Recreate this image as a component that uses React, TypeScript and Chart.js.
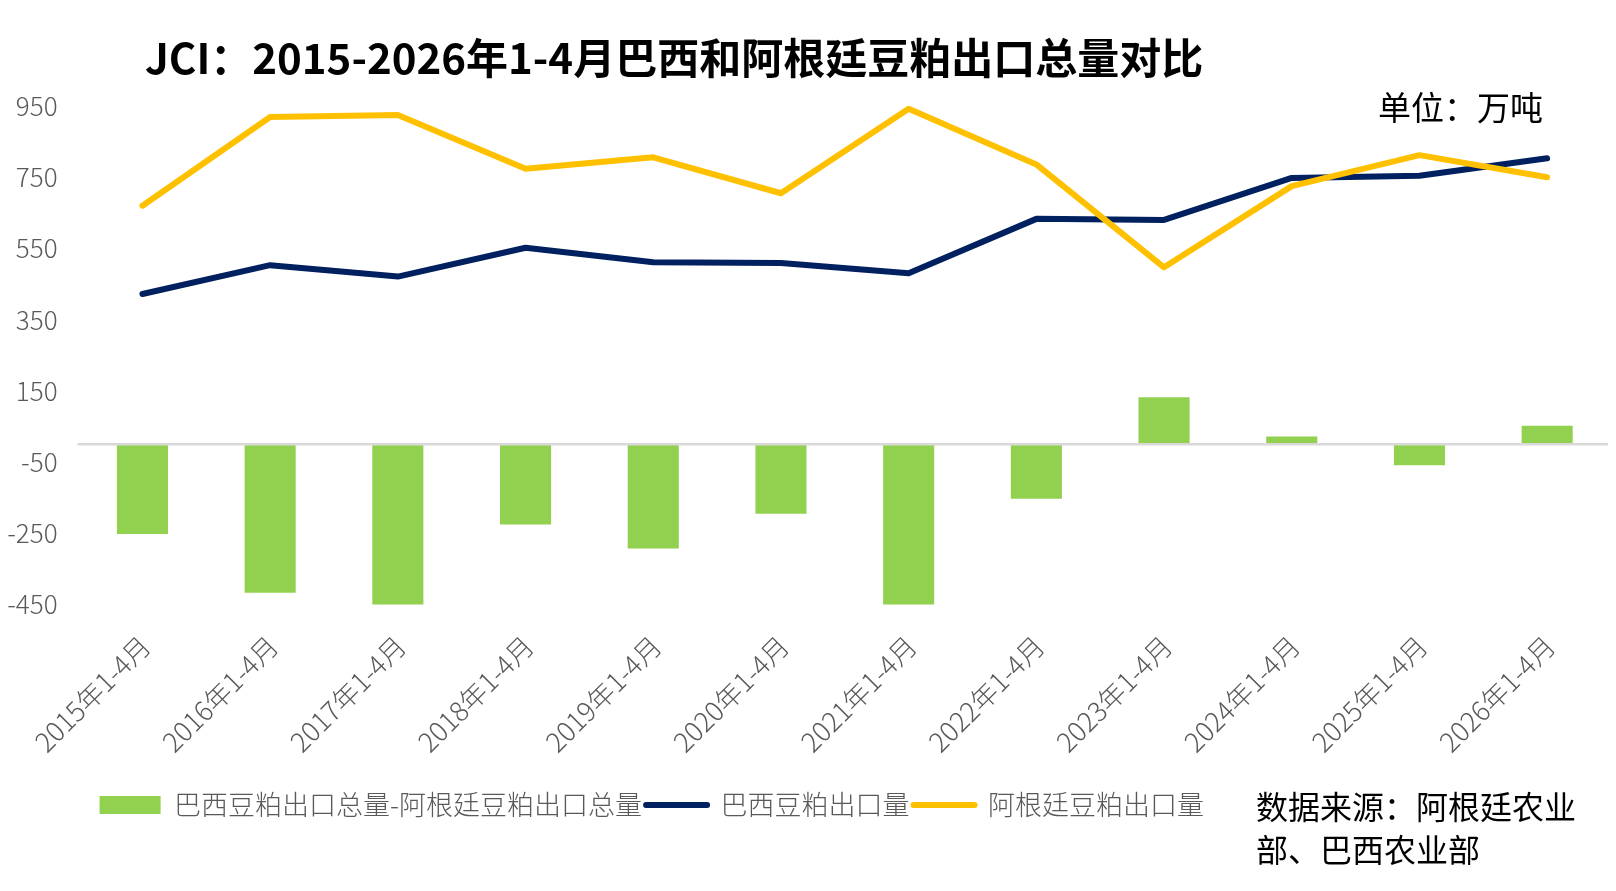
import { useEffect, useRef } from 'react';
import Chart from 'chart.js/auto';

// 2015-2026年1-4月 巴西 / 阿根廷 豆粕出口（万吨）
const categories = [
  '2015年1-4月', '2016年1-4月', '2017年1-4月', '2018年1-4月',
  '2019年1-4月', '2020年1-4月', '2021年1-4月', '2022年1-4月',
  '2023年1-4月', '2024年1-4月', '2025年1-4月', '2026年1-4月',
];
const brazilExports = [422, 503, 471, 552, 511, 509, 480, 633, 630, 748, 754, 803];
const argentinaExports = [670, 919, 925, 774, 806, 705, 942, 786, 497, 725, 812, 750];
const exportGap = [-252, -417, -454, -225, -293, -195, -460, -153, 132, 22, -59, 52];
const yTickValues = [-450, -250, -50, 150, 350, 550, 750, 950];

const seriesNames = ['巴西豆粕出口总量-阿根廷豆粕出口总量', '巴西豆粕出口量', '阿根廷豆粕出口量'];

const FONT = '"Noto Sans CJK SC", "Noto Sans", sans-serif';

// thin grey line at value 0
const zeroLine = {
  id: 'zeroLine',
  afterDatasetsDraw(chart) {
    const { ctx, chartArea, scales } = chart;
    const y = scales.y.getPixelForValue(0);
    ctx.save();
    ctx.strokeStyle = '#d9d9d9';
    ctx.lineWidth = 2.5;
    ctx.beginPath();
    ctx.moveTo(chartArea.left - 1, y);
    ctx.lineTo(chart.width, y);
    ctx.stroke();
    ctx.restore();
  },
};

// nudge the legend a bit to the right, like the original
const legendShift = {
  id: 'legendShift',
  afterLayout(chart) {
    const l = chart.legend;
    if (l) {
      l.left += 17;
      l.right += 17;
    }
  },
};

const App = () => {
  const canvasRef = useRef(null);
  const chartRef = useRef(null);

  useEffect(() => {
    if (!canvasRef.current) return;
    if (chartRef.current) chartRef.current.destroy();

    chartRef.current = new Chart(canvasRef.current.getContext('2d'), {
      data: {
        labels: categories,
        datasets: [
          {
            type: 'bar',
            label: seriesNames[0],
            data: exportGap,
            backgroundColor: '#92d050',
            borderColor: '#92d050',
            borderWidth: 0,
            barPercentage: 0.4,
            categoryPercentage: 1,
            order: 2,
          },
          {
            type: 'line',
            label: seriesNames[1],
            data: brazilExports,
            borderColor: '#002060',
            backgroundColor: '#002060',
            borderWidth: 6,
            pointRadius: 0,
            borderCapStyle: 'round',
            borderJoinStyle: 'round',
            order: 1,
          },
          {
            type: 'line',
            label: seriesNames[2],
            data: argentinaExports,
            borderColor: '#ffc000',
            backgroundColor: '#ffc000',
            borderWidth: 6,
            pointRadius: 0,
            borderCapStyle: 'round',
            borderJoinStyle: 'round',
            order: 0,
          },
        ],
      },
      options: {
        animation: false,
        responsive: true,
        maintainAspectRatio: false,
        layout: { autoPadding: false, padding: { top: 106, right: 5, bottom: 62.5, left: 0 } },
        scales: {
          x: {
            offset: true,
            grid: { display: false, drawTicks: false },
            border: { display: false },
            ticks: {
              autoSkip: false,
              minRotation: 45,
              maxRotation: 45,
              padding: 25,
              labelOffset: 3,
              color: '#595959',
              font: { family: FONT, size: 27, weight: '300' },
            },
            afterFit: (scale) => { scale.height = 183; },
          },
          y: {
            min: -450,
            max: 950,
            grid: { display: false, drawTicks: false },
            border: { display: false },
            afterBuildTicks: (scale) => { scale.ticks = yTickValues.map((v) => ({ value: v })); },
            ticks: {
              padding: 21,
              color: '#595959',
              font: { family: FONT, size: 26, weight: '300' },
            },
            afterFit: (scale) => { scale.width = 78.6; },
          },
        },
        plugins: {
          title: { display: false },
          tooltip: { enabled: false },
          legend: {
            position: 'bottom',
            align: 'start',
            fullSize: false,
            labels: {
              usePointStyle: true,
              pointStyleWidth: 61,
              boxHeight: 18,
              padding: 4,
              color: '#595959',
              font: { family: FONT, size: 27, weight: '300' },
              generateLabels: (chart) => chart.data.datasets.map((ds, i) => ({
                text: ds.label,
                fillStyle: ds.backgroundColor,
                strokeStyle: ds.borderColor,
                lineWidth: i === 0 ? 0 : 6,
                lineCap: 'round',
                pointStyle: i === 0 ? 'rect' : 'line',
                fontColor: '#595959',
                hidden: false,
                datasetIndex: i,
              })),
            },
          },
        },
      },
      plugins: [zeroLine, legendShift],
    });

    return () => {
      if (chartRef.current) {
        chartRef.current.destroy();
        chartRef.current = null;
      }
    };
  }, []);

  return (
    <div style={{ position: 'relative', width: 1616, height: 891, margin: -8, background: '#fff', fontFamily: FONT }}>
      <canvas ref={canvasRef} />
      <div style={{ position: 'absolute', left: 145, top: 35, fontSize: 42, lineHeight: '42px', fontWeight: 700, color: '#000', whiteSpace: 'nowrap' }}>
        JCI：2015-2026年1-4月巴西和阿根廷豆粕出口总量对比
      </div>
      <div style={{ position: 'absolute', left: 1378, top: 90, fontSize: 33, lineHeight: '33px', color: '#000', whiteSpace: 'nowrap' }}>
        单位：万吨
      </div>
      <div style={{ position: 'absolute', left: 1256, top: 784, width: 334, fontSize: 32, lineHeight: '43px', color: '#000' }}>
        数据来源：阿根廷农业部、巴西农业部
      </div>
    </div>
  );
};

export default App;
